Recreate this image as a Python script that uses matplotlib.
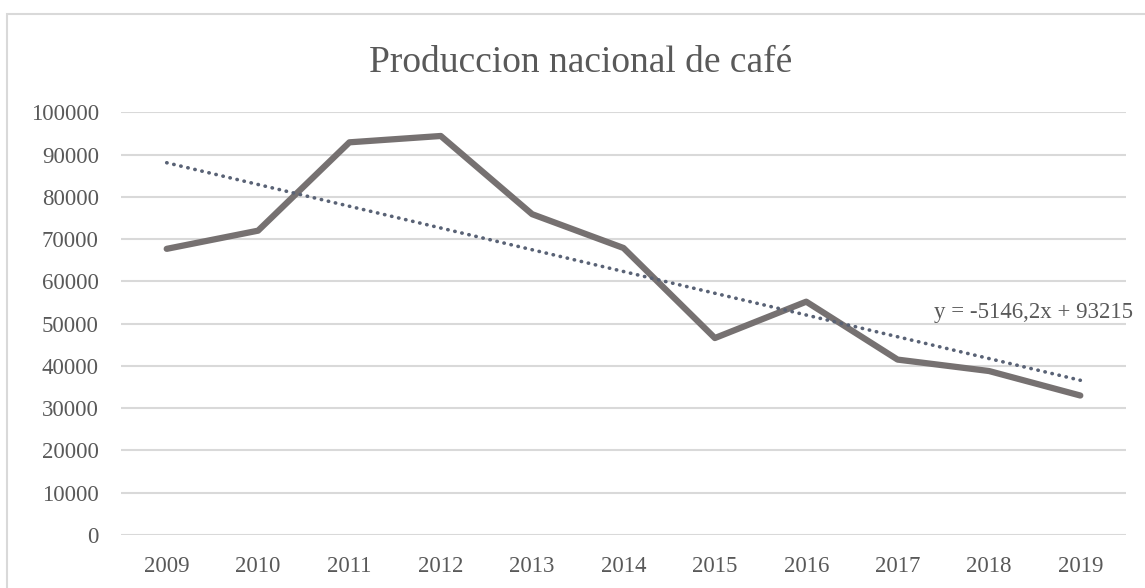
"""
Produccion nacional de café - gráfico de línea con tendencia
"""

import numpy as np
import matplotlib

matplotlib.use("Agg")
import matplotlib.pyplot as plt
from matplotlib.patches import Rectangle

plt.rcParams["font.family"] = ["Liberation Serif", "DejaVu Serif"]

# datos
years = ["2009", "2010", "2011", "2012", "2013", "2014",
         "2015", "2016", "2017", "2018", "2019"]
produccion = [67700, 72000, 92900, 94400, 75900, 67900,
              46600, 55200, 41500, 38800, 33000]
y_ticks = [0, 10000, 20000, 30000, 40000, 50000,
           60000, 70000, 80000, 90000, 100000]

# tendencia lineal (según la etiqueta del gráfico)
trend_slope = -5146.2
trend_intercept = 93215
trend_label = "y = -5146,2x + 93215"

text_color = "#595959"
grid_color = "#d9d9d9"

fig = plt.figure(figsize=(11.45, 5.88), dpi=100)
ax = fig.add_axes([0.1057, 0.0901, 0.8777, 0.7189])

# borde del gráfico
fig.patches.append(
    Rectangle((7.3 / 1145, -0.05), 1.1, 1 - 14.5 / 588 + 0.05,
              transform=fig.transFigure, fill=False,
              edgecolor=grid_color, linewidth=1.5)
)

x = np.arange(len(years))
ax.plot(x, produccion, color="#767171", linewidth=4.5,
        solid_joinstyle="round", solid_capstyle="round", zorder=3)

trend = trend_slope * (x + 1) + trend_intercept
ax.plot(x, trend, color="#596275", linewidth=2.6,
        linestyle=(0, (0.1, 1.9)), dash_capstyle="round", zorder=4)

ax.text(0.809, 0.527, trend_label, transform=ax.transAxes,
        fontsize=16.5, color=text_color, ha="left", va="center")

ax.set_xlim(-0.5, len(years) - 0.5)
ax.set_ylim(0, 100000)
ax.set_xticks(x)
ax.set_xticklabels(years)
ax.set_yticks(y_ticks)
ax.set_yticklabels([str(v) for v in y_ticks])
ax.tick_params(axis="both", length=0, labelsize=16.5, labelcolor=text_color)
ax.tick_params(axis="x", pad=15)
ax.tick_params(axis="y", pad=16)

ax.grid(axis="y", color=grid_color, linewidth=1.5)
ax.set_axisbelow(True)
for spine in ax.spines.values():
    spine.set_visible(False)

fig.text(0.507, 0.893, "Produccion nacional de café", fontsize=27,
         color=text_color, ha="center", va="center")

plt.savefig("out.png", dpi=100)
plt.close()
